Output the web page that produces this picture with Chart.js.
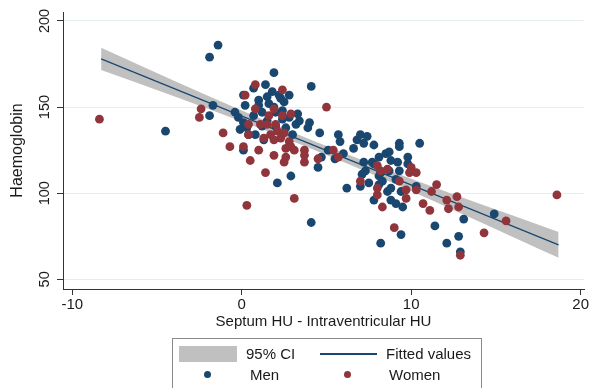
<!DOCTYPE html>
<html>
<head>
<meta charset="utf-8">
<script src="https://cdn.jsdelivr.net/npm/chart.js@4"></script>
<style>
  body { margin:0; background:#fff; overflow:hidden; font-family:"Liberation Sans", Arial, sans-serif; }
  #wrap { position:relative; width:590px; height:388px; }
  #legend { position:absolute; left:172px; top:338px; width:310px; height:60px; border:1px solid #8a8a8a; box-sizing:border-box; }
  #legend .t { position:absolute; font-size:15px; line-height:18px; color:#1a1a1a; white-space:nowrap; }
</style>
</head>
<body>
<div id="wrap">
  <canvas id="myChart" width="590" height="388"></canvas>
  <div id="legend">
    <div style="position:absolute;left:6px;top:7px;width:58px;height:16px;background:#c0c0c0;"></div>
    <div class="t" style="left:73px;top:6px;">95% CI</div>
    <div style="position:absolute;left:147px;top:14px;width:57px;height:1.5px;background:#1a476f;"></div>
    <div class="t" style="left:213px;top:6px;">Fitted values</div>
    <div style="position:absolute;left:31px;top:32px;width:7px;height:7px;border-radius:50%;background:#1a476f;"></div>
    <div class="t" style="left:77px;top:27px;">Men</div>
    <div style="position:absolute;left:171px;top:32px;width:7px;height:7px;border-radius:50%;background:#90353b;"></div>
    <div class="t" style="left:216px;top:27px;">Women</div>
  </div>
</div>
<script>
// values
let menX = [-1.4,-1.9,-1.7,-1.9,-4.5,1.9,2.1,2.9,0.1,4.1,1.4,0.1,0.7,1.8,2.2,2.5,2.8,1.0,1.5,0.2,
  -0.4,-0.2,0.1,-0.1,0.3,0.7,1.2,1.5,1.2,0.8,1.3,2.0,2.6,3.0,3.2,3.3,3.9,4.0,4.6,5.7,5.8,5.1,5.5,4.5,6.2,
  0.4,1.9,2.4,2.8,4.1,
  6.6,7.0,7.4,7.8,7.2,6.8,9.3,10.5,
  6.0,4.7,7.2,7.3,7.8,8.1,8.5,8.8,9.2,9.3,9.8,9.8,8.1,8.3,9.1,9.4,7.5,7.0,
  10.3,8.6,8.8,9.1,9.5,7.8,8.2,9.4,11.4,12.1,12.8,12.9,13.1,14.9,
  3.4,9.3,8.7,7.1,8.2,8.7,8.1,8.8,7.7,
  2.3,1.6,1.0,2.0,2.4];
let menY = [186,179,151,145,136,170,106,110,125,162,163,157,161,159,157,153,157,154,156,151,
  147,144,141,137,138,145,147,142,139,134,131,139,138,134,140,146,138,141,135,134,130,125,120,115,103,
  134,150,148,144,83,
  126,134,133,128,129,131,129,129,
  123,121,118,113,117,121,123,119,118,113,121,117,110,107,108,101,106,104,
  104,101,96,94,92,96,71,76,81,71,75,66,85,88,
  142,127,124,111,112,113,105,103,118,
  155,152,151,147,143];

let womenX = [-8.4,-2.4,-2.5,-1.1,-0.7,0.3,3.1,0.5,1.4,0.1,0.8,0.2,2.4,5.0,
  0.4,0.8,1.1,1.6,1.9,2.4,2.9,1.5,2.0,0.4,1.0,1.3,1.7,1.9,2.1,2.3,2.5,2.8,2.6,3.1,
  1.9,2.6,2.5,3.7,3.7,4.5,5.4,5.7,
  8.0,8.2,8.6,7.0,8.0,8.0,9.3,9.7,10.0,9.9,10.3,10.3,9.7,8.3,10.7,11.1,11.2,11.5,
  12.1,12.2,12.7,12.8,9.0,12.9,14.3,15.6,18.6,2.9,3.7];
let womenY = [143,149,144,135,127,93,97,119,112,127,163,157,160,150,
  140,149,140,145,149,145,146,140,140,134,125,132,134,131,136,132,135,130,126,125,
  122,121,118,118,125,120,125,121,
  116,113,114,107,103,99,107,102,115,112,112,102,97,92,94,90,101,105,
  96,91,98,92,80,64,77,84,99,127,122];

// fitted line and 95% CI band
let fitX = [-8.3, 18.7];
let fitY = [178, 70];
let ciX = [-8.3, -4, 0, 4, 8, 12, 16, 18.7];
let ciLow = [171.5, 156.3, 141.6, 126.3, 109.8, 92.5, 74.6, 62.5];
let ciHigh = [184.5, 165.3, 148.0, 131.3, 115.8, 101.1, 87.0, 77.5];

let xTicks = [-10, 0, 10, 20];
let yTicks = [50, 100, 150, 200];

function pts(xs, ys){
  return xs.map(function(x, i){ return {x: x, y: ys[i]}; });
}

const navy = '#1a476f', maroon = '#90353b';
const font = '"Liberation Sans", Arial, sans-serif';

// y tick labels are turned on their side, Stata style
const yLabels = {
  id: 'yLabels',
  afterDraw(chart){
    let ctx = chart.ctx, s = chart.scales.y;
    ctx.save();
    ctx.fillStyle = '#1a1a1a';
    ctx.font = '14.5px ' + font;
    ctx.textAlign = 'center';
    ctx.textBaseline = 'middle';
    yTicks.forEach(function(v){
      ctx.save();
      ctx.translate(45, s.getPixelForValue(v));
      ctx.rotate(-Math.PI/2);
      ctx.fillText(String(v), 0, 0);
      ctx.restore();
    });
    ctx.restore();
  }
};

var ctx = document.getElementById('myChart').getContext('2d');
var myChart = new Chart(ctx, {
  type: 'scatter',
  data: {
    datasets: [
      { label: 'Women', data: pts(womenX, womenY), backgroundColor: maroon, borderWidth: 0, pointRadius: 4.4, order: 0 },
      { label: 'Men', data: pts(menX, menY), backgroundColor: navy, borderWidth: 0, pointRadius: 4.4, order: 1 },
      { type: 'line', label: 'Fitted values', data: pts(fitX, fitY), borderColor: navy, borderWidth: 1.2, pointRadius: 0, fill: false, order: 2 },
      { type: 'line', label: 'ci high', data: pts(ciX, ciHigh), borderWidth: 0, borderColor: 'rgba(0,0,0,0)', pointRadius: 0,
        backgroundColor: '#c0c0c0', fill: '+1', cubicInterpolationMode: 'monotone', order: 3 },
      { type: 'line', label: 'ci low', data: pts(ciX, ciLow), borderWidth: 0, borderColor: 'rgba(0,0,0,0)', pointRadius: 0,
        fill: false, cubicInterpolationMode: 'monotone', order: 4 }
    ]
  },
  options: {
    responsive: false,
    devicePixelRatio: 1,
    animation: false,
    layout: { padding: { top: 12, right: 0, bottom: 54, left: 0 } },
    plugins: { legend: { display: false }, tooltip: { enabled: false } },
    scales: {
      x: {
        type: 'linear', min: -10.55, max: 20.2,
        afterBuildTicks: function(s){ s.ticks = xTicks.map(function(v){ return {value: v}; }); },
        afterFit: function(s){ s.height = 45; },
        grid: { drawOnChartArea: false, drawTicks: true, tickLength: 6, color: '#333' },
        border: { color: '#333', width: 1 },
        ticks: { color: '#1a1a1a', font: { family: font, size: 15 }, padding: 1, maxRotation: 0 },
        title: { display: true, text: 'Septum HU - Intraventricular HU', color: '#1a1a1a',
          font: { family: font, size: 15 }, padding: { top: 0, bottom: 3.5 } }
      },
      y: {
        type: 'linear', min: 44.4, max: 205.2,
        afterBuildTicks: function(s){ s.ticks = yTicks.map(function(v){ return {value: v}; }); },
        afterFit: function(s){ s.width = 63; },
        grid: { color: '#e4eef0', lineWidth: 1, drawTicks: true, tickLength: 6, tickColor: '#333' },
        border: { color: '#333', width: 1 },
        ticks: { color: 'rgba(0,0,0,0)', font: { family: font, size: 14 } },
        title: { display: true, text: 'Haemoglobin', color: '#1a1a1a',
          font: { family: font, size: 16 }, padding: { top: 8, bottom: 0 } }
      }
    }
  },
  plugins: [yLabels]
});
</script>
</body>
</html>
